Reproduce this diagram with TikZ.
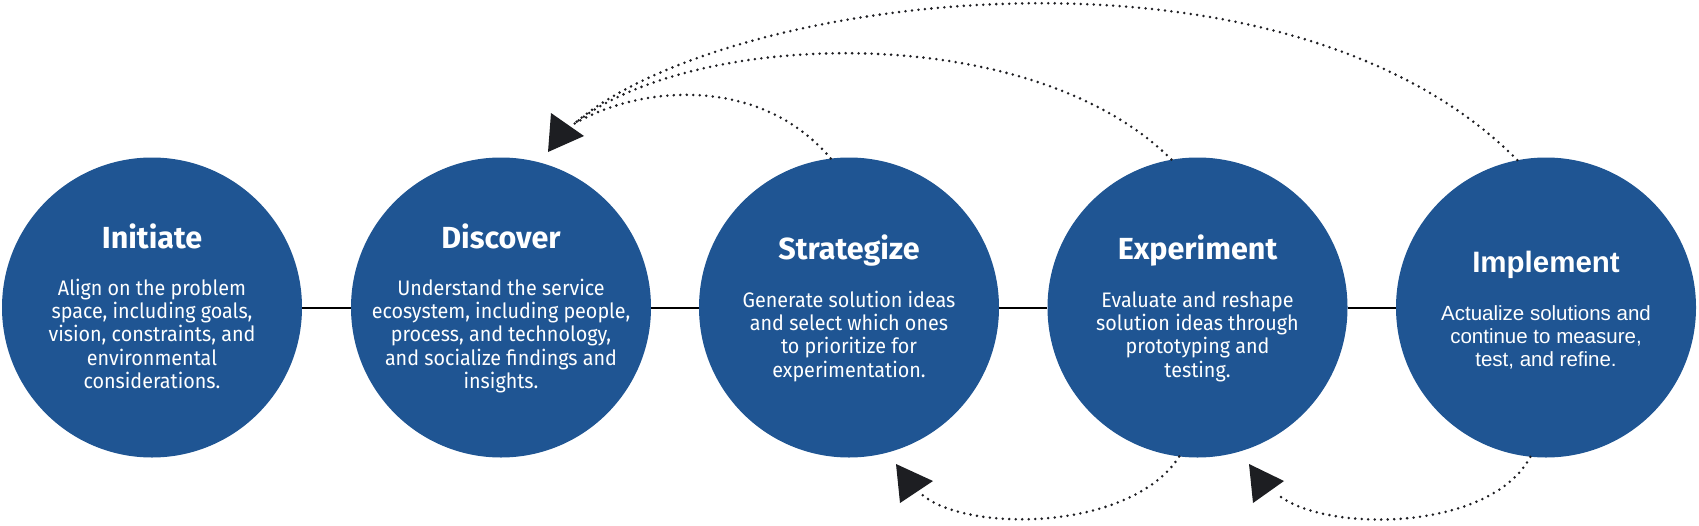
\documentclass[tikz,border=0pt]{standalone}
\usepackage{fontspec}
\setmainfont{Fira Sans}
\newfontfamily\bodyfont[FakeStretch=0.94]{Fira Sans}
\newfontfamily\plexlike{Liberation Sans}
\definecolor{circblue}{RGB}{31,85,147}
\definecolor{dotc}{RGB}{30,30,34}
\definecolor{tric}{RGB}{29,30,34}
\begin{document}
\begin{tikzpicture}[x=1pt,y=-1pt,
  stage/.style={circle, fill=circblue, minimum size=300pt, inner sep=0pt},
  title/.style={text=white, anchor=base, inner sep=0pt, font={\fontsize{30.5}{34}\selectfont\bfseries}},
  body/.style={text=white, anchor=base, inner sep=0pt, align=center, font={\bodyfont\fontsize{21}{23.4}\selectfont}},
  ititle/.style={text=white, anchor=base, inner sep=0pt, font={\plexlike\fontsize{29.5}{33}\selectfont\bfseries}},
  ibody/.style={text=white, anchor=base, inner sep=0pt, align=center, font={\plexlike\fontsize{20.5}{23.2}\selectfont}},
  link/.style={draw=black, line width=2pt},
  dotline/.style={draw=dotc, line width=2.8pt, line cap=round, dash pattern=on 0pt off 6.5pt},
  tri/.style={fill=tric}
  ]
\useasboundingbox (0,0) rectangle (1699,525);

\node[stage] (init) at (152,307.5) {};
\node[stage] (disc) at (501,307.5) {};
\node[stage] (strat) at (849,307.5) {};
\node[stage] (exper) at (1197.5,307.5) {};
\node[stage] (impl) at (1546,307.5) {};

\draw[link] (init.east) -- (disc.west);
\draw[link] (disc.east) -- (strat.west);
\draw[link] (strat.east) -- (exper.west);
\draw[link] (exper.east) -- (impl.west);

% body nodes: anchor=base sits on the last line's baseline
\node[title] (t1) at (152,248) {Initiate};
\node[body] (b1) at (152,388.6) {Align on the problem\\space, including goals,\\vision, constraints, and\\environmental\\considerations.};

\node[title] (t2) at (501,248) {Discover};
\node[body] (b2) at (501,388.6) {Understand the service\\ecosystem, including people,\\process, and technology,\\and socialize findings and\\insights.};

\node[title] (t3) at (849,259) {Strategize};
\node[body] (b3) at (849,377.2) {Generate solution ideas\\and select which ones\\to prioritize for\\experimentation.};

\node[title] (t4) at (1197.5,259) {Experiment};
\node[body] (b4) at (1197.5,377.2) {Evaluate and reshape\\solution ideas through\\prototyping and\\testing.};

\node[ititle] (t5) at (1546,272) {Implement};
\node[ibody] (b5) at (1546,366.4) {Actualize solutions and\\continue to measure,\\test, and refine.};

% arrow end points
\coordinate (topend) at (574,124);
\coordinate (botend1) at (919,492);
\coordinate (botend2) at (1276,493);

% top feedback curves
\draw[dotline] (strat.97.5) .. controls (760,75) and (640,85) .. (topend);
\draw[dotline] (exper.100.5) .. controls (1030,18) and (690,30) .. (topend);
\draw[dotline] (impl.101) .. controls (1280,-80) and (720,-5) .. (topend);

% bottom feedback curves
\draw[dotline] (exper.-97) .. controls (1130,533) and (960,533) .. (botend1);
\draw[dotline] (impl.-96) .. controls (1490,533) and (1320,533) .. (botend2);

% arrowheads
\fill[tri] (551,113) -- (548,152) -- (584,136) -- cycle;
\fill[tri] (896,464) -- (900,503) -- (933,481) -- cycle;
\fill[tri] (1249,464) -- (1253,503) -- (1284,481) -- cycle;
\end{tikzpicture}
\end{document}
